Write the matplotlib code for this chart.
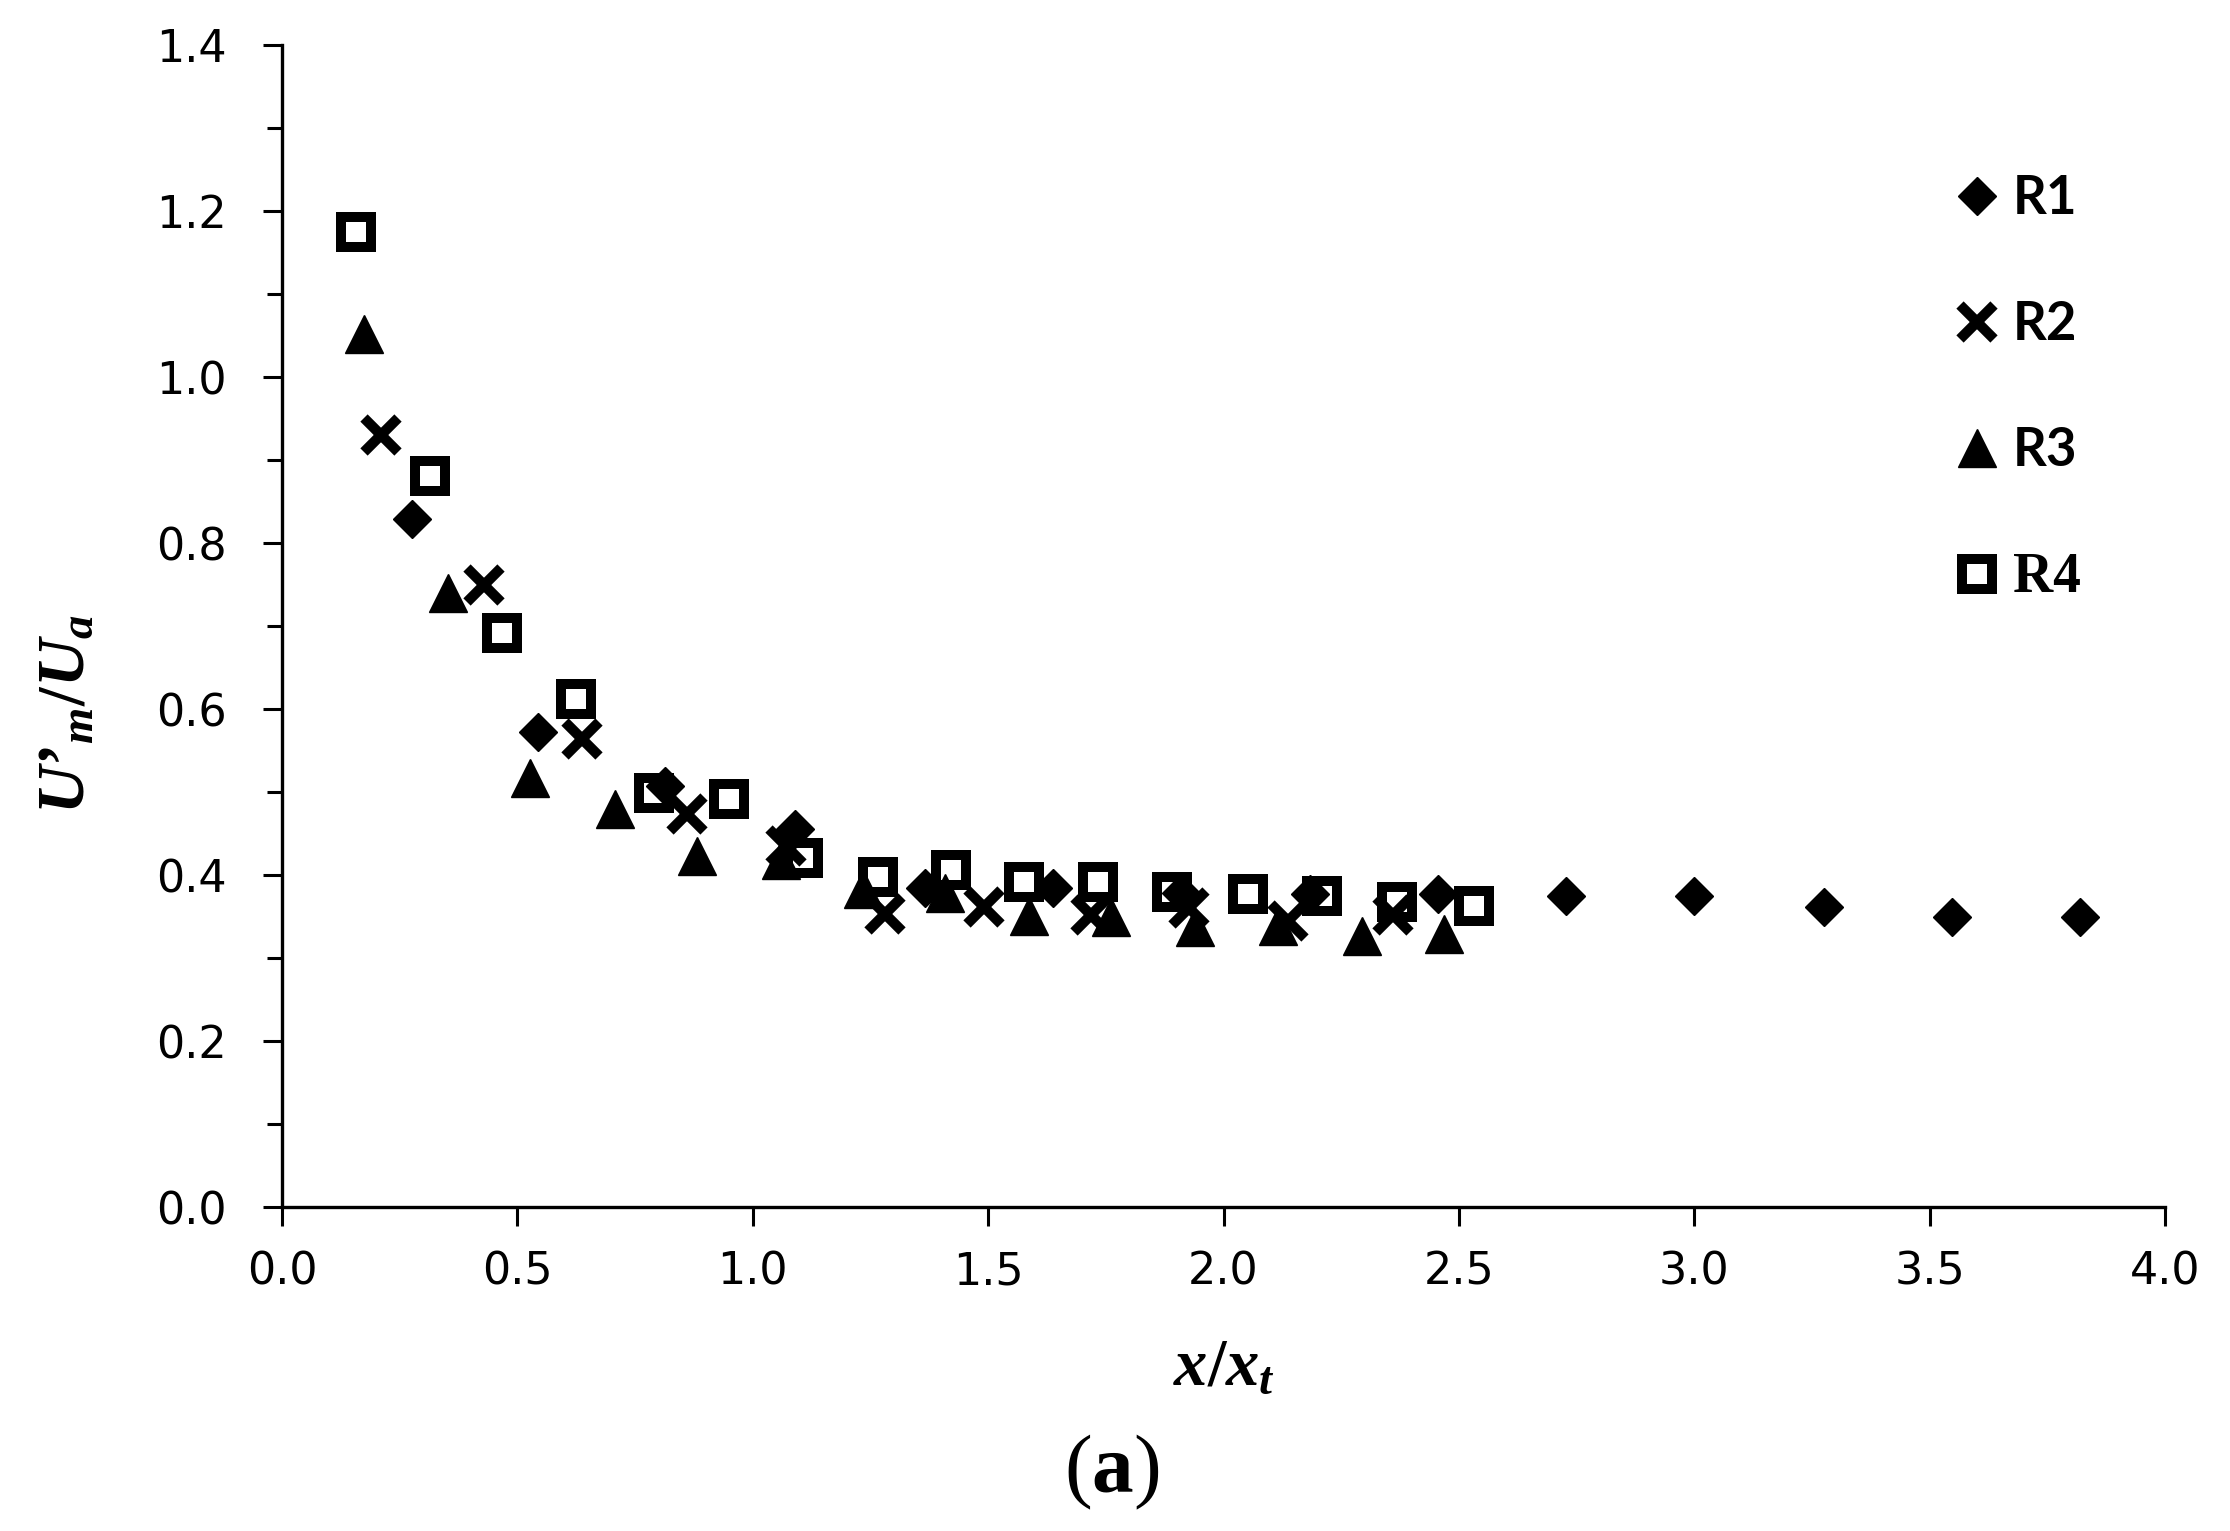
import matplotlib
matplotlib.use("Agg")
import matplotlib.pyplot as plt
from matplotlib.ticker import MultipleLocator, FormatStrFormatter

# data
r1_x = [0.275, 0.544, 0.813, 1.09, 1.366, 1.637, 1.909, 2.184, 2.456, 2.728, 3.0, 3.275, 3.547, 3.819]
r1_y = [0.829, 0.572, 0.507, 0.455, 0.384, 0.384, 0.378, 0.377, 0.377, 0.375, 0.375, 0.362, 0.350, 0.350]

r2_x = [0.211, 0.429, 0.637, 0.861, 1.07, 1.281, 1.492, 1.719, 1.927, 2.136, 2.36]
r2_y = [0.930, 0.749, 0.564, 0.473, 0.435, 0.353, 0.362, 0.352, 0.360, 0.345, 0.352]

r3_x = [0.175, 0.353, 0.526, 0.707, 0.882, 1.06, 1.233, 1.408, 1.586, 1.761, 1.94, 2.115, 2.293, 2.468]
r3_y = [1.052, 0.740, 0.517, 0.479, 0.423, 0.418, 0.383, 0.378, 0.351, 0.349, 0.337, 0.338, 0.326, 0.329]

r4_x = [0.157, 0.314, 0.468, 0.625, 0.789, 0.949, 1.106, 1.266, 1.42, 1.577, 1.734, 1.891, 2.051, 2.208, 2.369, 2.532]
r4_y = [1.175, 0.881, 0.692, 0.612, 0.499, 0.492, 0.420, 0.398, 0.406, 0.392, 0.392, 0.380, 0.377, 0.375, 0.367, 0.363]

labels = ["R1", "R2", "R3", "R4"]

plt.rcParams["font.family"] = "DejaVu Sans"
plt.rcParams["mathtext.fontset"] = "custom"
plt.rcParams["mathtext.it"] = "Liberation Serif:bold:italic"
plt.rcParams["mathtext.rm"] = "Liberation Serif:bold"
plt.rcParams["mathtext.bf"] = "Liberation Serif:bold"

fig = plt.figure(figsize=(11.15, 7.655), dpi=200)
ax = fig.add_axes([0.1265, 0.2116, 0.8444, 0.759])

# squares first, the others sit on top of them
h4, = ax.plot(r4_x, r4_y, ls="none", marker="s", ms=10.5, mfc="none", mec="black", mew=3.6)
h1, = ax.plot(r1_x, r1_y, ls="none", marker="D", ms=9.5, mfc="black", mec="black", mew=0.5)
h2, = ax.plot(r2_x, r2_y, ls="none", marker="x", ms=12.5, mec="black", mew=3.7)
h3, = ax.plot(r3_x, r3_y, ls="none", marker="^", ms=13.5, mfc="black", mec="black", mew=0.5)

ax.set_xlim(0, 4.0)
ax.set_ylim(0, 1.4)
ax.xaxis.set_major_locator(MultipleLocator(0.5))
ax.yaxis.set_major_locator(MultipleLocator(0.2))
ax.yaxis.set_minor_locator(MultipleLocator(0.1))
ax.xaxis.set_major_formatter(FormatStrFormatter("%.1f"))
ax.yaxis.set_major_formatter(FormatStrFormatter("%.1f"))

for s in ["top", "right"]:
    ax.spines[s].set_visible(False)
for s in ["left", "bottom"]:
    ax.spines[s].set_linewidth(1.2)

ax.tick_params(axis="both", which="major", direction="out", length=6.8, width=1.1, labelsize=16)
ax.tick_params(axis="x", which="major", pad=9)
ax.tick_params(axis="y", which="major", pad=13)
ax.tick_params(axis="y", which="minor", direction="out", length=5.4, width=1.1)

ax.set_xlabel(r"$x/x_t$", fontsize=24)
ax.xaxis.set_label_coords(0.5, -0.108)
ax.set_ylabel(r"$U’_m/U_a$", fontsize=24)
ax.yaxis.set_label_coords(-0.098, 0.424)

fig.text(0.4985, 0.038, r"($\mathbf{a}$)", fontsize=30, family="Liberation Serif",
         ha="center", va="center")

leg = ax.legend([h1, h2, h3, h4], labels, loc="upper left", bbox_to_anchor=(0.8885, 0.889),
                frameon=False, numpoints=1, fontsize=19, handlelength=0.84,
                handletextpad=0.25, labelspacing=1.46, borderpad=0, borderaxespad=0)
for t in leg.get_texts()[:3]:
    t.set_fontfamily("Lato")
    t.set_fontweight("bold")
leg.get_texts()[3].set_fontfamily("Liberation Serif")
leg.get_texts()[3].set_fontweight("bold")
leg.get_texts()[3].set_fontsize(20)

fig.savefig("out.png", dpi=200)
